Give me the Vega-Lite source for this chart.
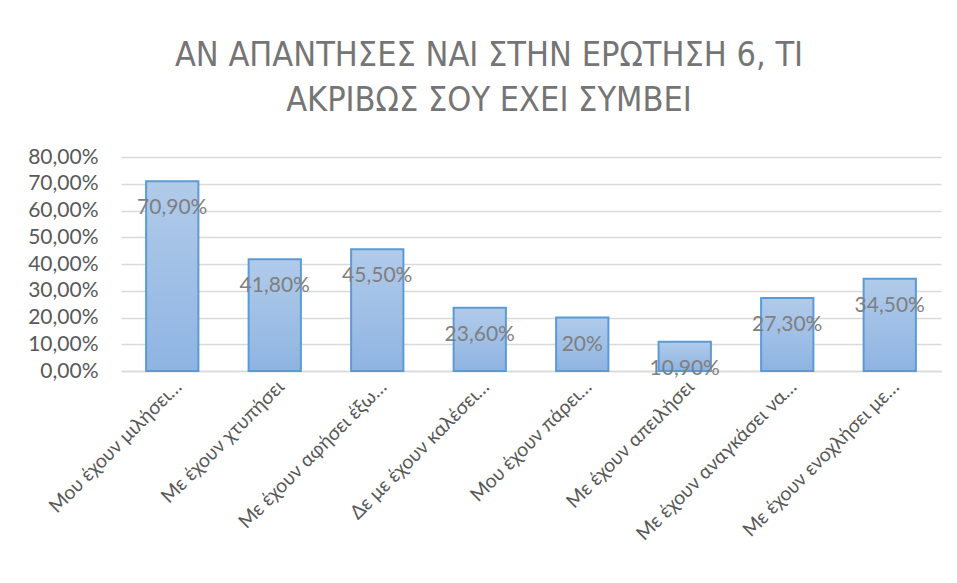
{
  "$schema": "https://vega.github.io/schema/vega-lite/v6.json",
  "width": 820,
  "height": 214,
  "padding": {"left": 21, "top": 39, "right": 16, "bottom": 10},
  "background": "white",
  "config": {
    "locale": {"number": {"decimal": ",", "thousands": ".", "grouping": [3], "currency": ["", " €"]}},
    "view": {"stroke": null},
    "font": "Lato"
  },
  "title": {
    "text": ["ΑΝ ΑΠΑΝΤΗΣΕΣ ΝΑΙ ΣΤΗΝ ΕΡΩΤΗΣΗ 6, ΤΙ", "ΑΚΡΙΒΩΣ ΣΟΥ ΕΧΕΙ ΣΥΜΒΕΙ"],
    "font": "Liberation Sans Narrow, DejaVu Sans Condensed, Lato",
    "fontWeight": "normal",
    "fontSize": 34,
    "lineHeight": 45,
    "color": "#757575",
    "anchor": "middle",
    "dx": -42,
    "offset": 28
  },
  "data": {
    "values": [
      {"category": "Μου έχουν μιλήσει…", "value": 0.709, "label": "70,90%"},
      {"category": "Με έχουν χτυπήσει", "value": 0.418, "label": "41,80%"},
      {"category": "Με έχουν αφήσει έξω…", "value": 0.455, "label": "45,50%"},
      {"category": "Δε με έχουν καλέσει…", "value": 0.236, "label": "23,60%"},
      {"category": "Μου έχουν πάρει…", "value": 0.20, "label": "20%"},
      {"category": "Με έχουν απειλήσει", "value": 0.109, "label": "10,90%"},
      {"category": "Με έχουν αναγκάσει να…", "value": 0.273, "label": "27,30%"},
      {"category": "Με έχουν ενοχλήσει με…", "value": 0.345, "label": "34,50%"}
    ]
  },
  "encoding": {
    "x": {
      "field": "category",
      "type": "nominal",
      "sort": null,
      "title": null,
      "scale": {"paddingInner": 0.49, "paddingOuter": 0.245},
      "axis": {
        "labelAngle": -45,
        "labelFontSize": 19.5,
        "labelColor": "#595959",
        "labelFont": "Lato",
        "labelLimit": 300,
        "ticks": false,
        "labelPadding": 6,
        "domainColor": "#d9d9d9",
        "domainWidth": 1.5
      }
    },
    "y": {
      "field": "value",
      "type": "quantitative",
      "title": null,
      "scale": {"domain": [0, 0.8], "nice": false},
      "axis": {
        "values": [0, 0.1, 0.2, 0.3, 0.4, 0.5, 0.6, 0.7, 0.8],
        "format": ".2%",
        "labelFontSize": 21,
        "labelColor": "#595959",
        "labelFont": "Lato",
        "labelPadding": 23,
        "ticks": false,
        "domain": false,
        "gridColor": "#d9d9d9",
        "gridWidth": 1.3,
        "minExtent": 100,
        "maxExtent": 100
      }
    }
  },
  "layer": [
    {
      "mark": {
        "type": "bar",
        "stroke": "#5b9bd5",
        "strokeWidth": 2,
        "color": {
          "gradient": "linear",
          "x1": 0, "y1": 0, "x2": 0, "y2": 1,
          "stops": [
            {"offset": 0, "color": "#b1cbea"},
            {"offset": 1, "color": "#8fb4e2"}
          ]
        }
      }
    },
    {
      "mark": {
        "type": "text",
        "baseline": "middle",
        "dy": 27,
        "fontSize": 21,
        "color": "#7f7f7f",
        "font": "Lato"
      },
      "encoding": {"text": {"field": "label"}}
    }
  ]
}
